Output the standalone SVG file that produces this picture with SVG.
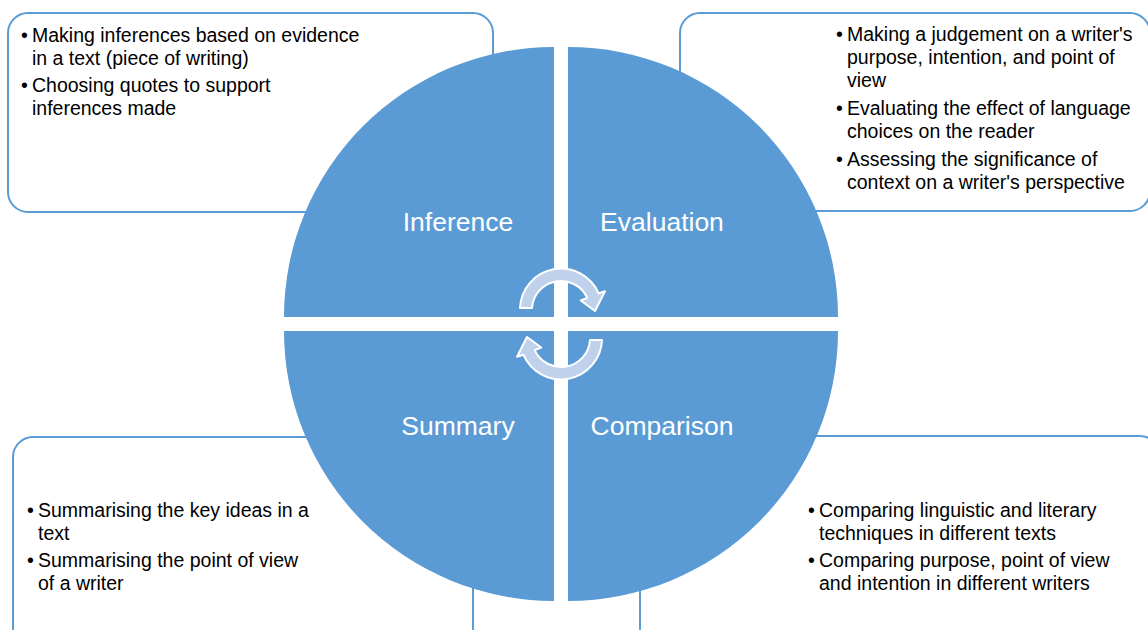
<svg xmlns="http://www.w3.org/2000/svg" width="1148" height="630" viewBox="0 0 1148 630">
<style>
.box{fill:#fff;stroke:#5b9bd5;stroke-width:2}
.q{fill:#5b9bd5}
.lbl{font-family:"Liberation Sans",Arial,sans-serif;font-size:26.5px;fill:#fff;text-anchor:middle}
.t{font-family:"Liberation Sans",Arial,sans-serif;font-size:19.5px;fill:#000}
.arr{fill:#bfd1eb;stroke:#fff;stroke-width:2;stroke-linejoin:round}
</style>
<defs>
<path id="cyc" class="arr" d="M520,308 A41,41 0 0 1 598.6,293.3 L605,291.3 L595,311 L580.7,300.5 L587.3,297.9 A29,29 0 0 0 532,308 Z"/>
</defs>
<rect width="1148" height="630" fill="#fff"/>
<g id="box-inference"><rect class="box" x="8" y="13" width="485" height="199" rx="20"/>
<text class="t"><tspan x="21" y="42">•</tspan><tspan x="32" y="42">Making inferences based on evidence</tspan><tspan x="32" y="65">in a text (piece of writing)</tspan><tspan x="21" y="92">•</tspan><tspan x="32" y="92">Choosing quotes to support</tspan><tspan x="32" y="115">inferences made</tspan></text></g>
<g id="box-evaluation"><rect class="box" x="680" y="13" width="470" height="198" rx="20"/>
<text class="t"><tspan x="836" y="41">•</tspan><tspan x="847" y="41">Making a judgement on a writer's</tspan><tspan x="847" y="64">purpose, intention, and point of</tspan><tspan x="847" y="87">view</tspan><tspan x="836" y="115">•</tspan><tspan x="847" y="115">Evaluating the effect of language</tspan><tspan x="847" y="138">choices on the reader</tspan><tspan x="836" y="166">•</tspan><tspan x="847" y="166">Assessing the significance of</tspan><tspan x="847" y="189">context on a writer's perspective</tspan></text></g>
<g id="box-summary"><rect class="box" x="13" y="437" width="460" height="230" rx="20"/>
<text class="t"><tspan x="27" y="517">•</tspan><tspan x="38" y="517">Summarising the key ideas in a</tspan><tspan x="38" y="540">text</tspan><tspan x="27" y="567">•</tspan><tspan x="38" y="567">Summarising the point of view</tspan><tspan x="38" y="590">of a writer</tspan></text></g>
<g id="box-comparison"><rect class="box" x="640" y="436" width="520" height="230" rx="20"/>
<text class="t"><tspan x="808" y="517">•</tspan><tspan x="819" y="517">Comparing linguistic and literary</tspan><tspan x="819" y="540">techniques in different texts</tspan><tspan x="808" y="567">•</tspan><tspan x="819" y="567">Comparing purpose, point of view</tspan><tspan x="819" y="590">and intention in different writers</tspan></text></g>
<g id="q-inference"><path class="q" d="M554,317 L284,317 A270,270 0 0 1 554,47 Z"/><text class="lbl" x="458" y="231">Inference</text></g>
<g id="q-evaluation"><path class="q" d="M568,317 L568,47 A270,270 0 0 1 838,317 Z"/><text class="lbl" x="662" y="231">Evaluation</text></g>
<g id="q-summary"><path class="q" d="M554,331 L554,601 A270,270 0 0 1 284,331 Z"/><text class="lbl" x="458" y="435">Summary</text></g>
<g id="q-comparison"><path class="q" d="M568,331 L838,331 A270,270 0 0 1 568,601 Z"/><text class="lbl" x="662" y="435">Comparison</text></g>
<g id="connectors">
<use href="#cyc"/>
<use href="#cyc" transform="rotate(180 561 324)"/>
</g>
</svg>
